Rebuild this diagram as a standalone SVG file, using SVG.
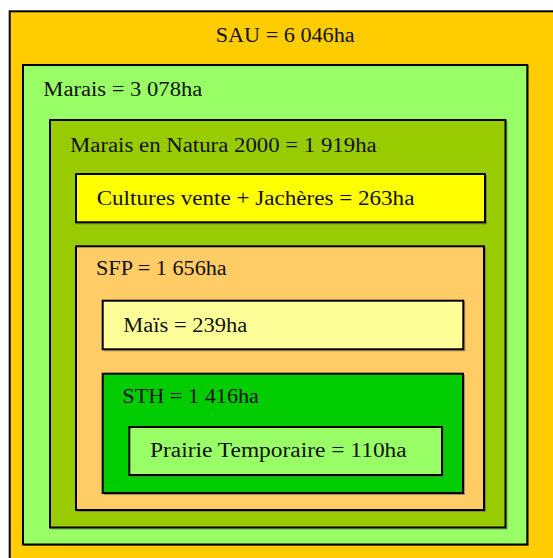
<svg xmlns="http://www.w3.org/2000/svg" width="553" height="558" viewBox="0 0 553 558">
<style>
.box{stroke:#000;stroke-width:2}
.sh{fill:none;stroke:#666;stroke-width:1;opacity:0.6}
text{font-family:"Liberation Serif","Times New Roman",serif;font-size:20.5px;fill:#111}
</style>
<rect width="553" height="558" fill="#fff"/>
<g id="sau">
<rect class="box" x="9.7" y="11.3" width="600" height="600" fill="#FFCC00"/>
<text x="215.7" y="41.7" textLength="139" lengthAdjust="spacingAndGlyphs">SAU = 6 046ha</text>
</g>
<g id="marais">
<rect class="sh" x="24.5" y="66.5" width="504" height="479"/>
<rect class="box" x="23" y="65" width="504.3" height="479.5" fill="#99FF66"/>
<text x="43.3" y="96" textLength="159" lengthAdjust="spacingAndGlyphs">Marais = 3 078ha</text>
</g>
<g id="natura">
<rect class="sh" x="51.5" y="121.5" width="455.5" height="407.5"/>
<rect class="box" x="50" y="120" width="455.5" height="407.5" fill="#99CC00"/>
<text x="70" y="151.7" textLength="306.7" lengthAdjust="spacingAndGlyphs">Marais en Natura 2000 = 1 919ha</text>
</g>
<g id="cultures">
<rect class="sh" x="77.5" y="175.5" width="409" height="48.3"/>
<rect class="box" x="76" y="174" width="409" height="48.3" fill="#FFFF00"/>
<text x="96.7" y="205" textLength="317.7" lengthAdjust="spacingAndGlyphs">Cultures vente + Jachères = 263ha</text>
</g>
<g id="sfp">
<rect class="sh" x="77.5" y="247.8" width="408" height="263.7"/>
<rect class="box" x="76" y="246.3" width="408" height="263.7" fill="#FFCC66"/>
<text x="96" y="275" textLength="130.7" lengthAdjust="spacingAndGlyphs">SFP = 1 656ha</text>
</g>
<g id="mais">
<rect class="sh" x="104.2" y="302.2" width="360.6" height="48.6"/>
<rect class="box" x="102.7" y="300.7" width="360.6" height="48.6" fill="#FFFF99"/>
<text x="123.3" y="331.7" textLength="124" lengthAdjust="spacingAndGlyphs">Maïs = 239ha</text>
</g>
<g id="sth">
<rect class="sh" x="104.2" y="375.2" width="360.3" height="119.3"/>
<rect class="box" x="102.7" y="373.7" width="360.3" height="119.3" fill="#00CC00"/>
<text x="122.3" y="403.3" textLength="136.7" lengthAdjust="spacingAndGlyphs">STH = 1 416ha</text>
</g>
<g id="prairie">
<rect class="sh" x="130.8" y="428.5" width="312.7" height="48"/>
<rect class="box" x="129.3" y="427" width="312.7" height="48" fill="#99FF66"/>
<text x="150" y="456.7" textLength="256.7" lengthAdjust="spacingAndGlyphs">Prairie Temporaire = 110ha</text>
</g>
<g id="connectors"/>
</svg>
